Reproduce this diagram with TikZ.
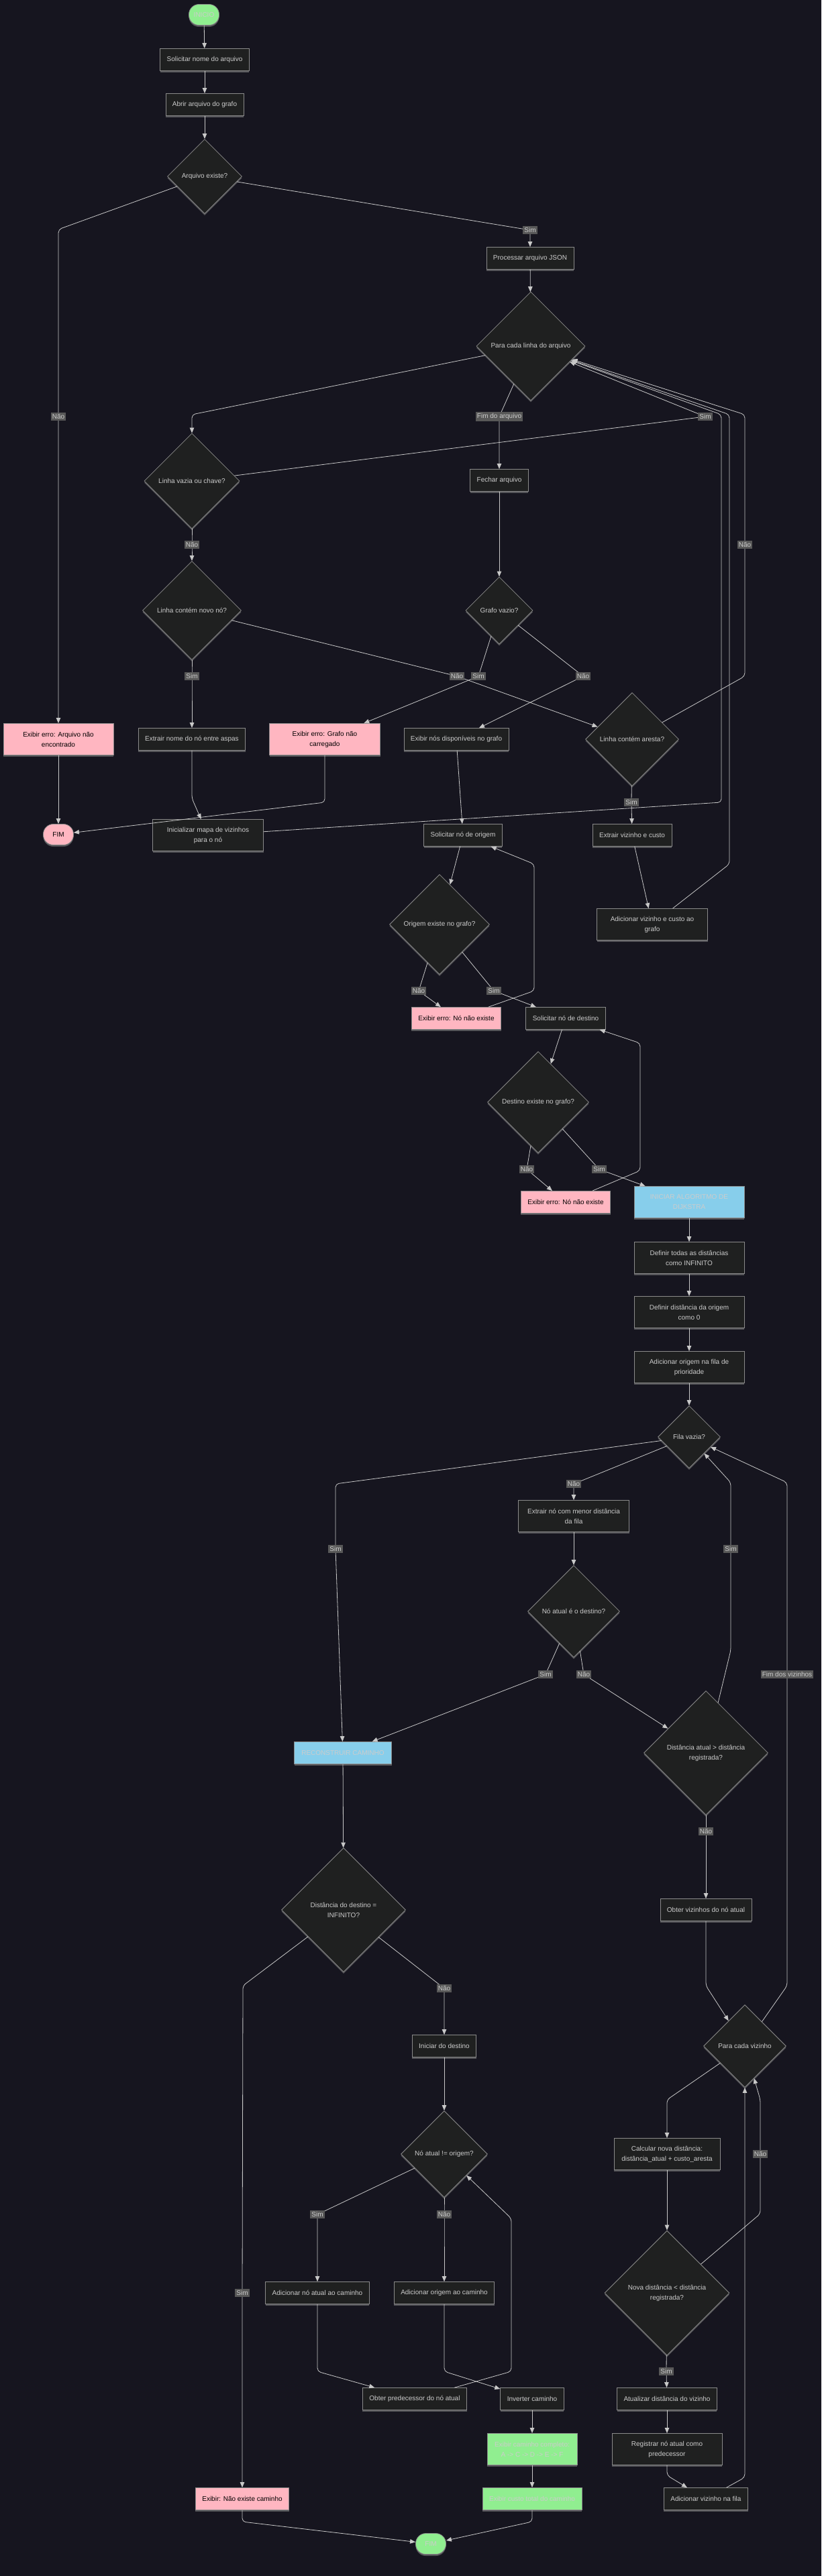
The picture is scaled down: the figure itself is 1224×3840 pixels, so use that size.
\documentclass[tikz,border=0pt]{standalone}
\usepackage{fontspec}
\setmainfont{Liberation Sans}
\usetikzlibrary{shapes.geometric,arrows.meta,shadows}

\definecolor{fundo}{HTML}{16151F}
\definecolor{caixa}{HTML}{1F2020}
\definecolor{borda}{HTML}{8A8A8A}
\definecolor{linha}{HTML}{C8C8C8}
\definecolor{textoclaro}{HTML}{CCCCCC}
\definecolor{rotulofundo}{HTML}{585858}
\definecolor{rosa}{HTML}{FFB6C1}
\definecolor{azul}{HTML}{87CEEB}
\definecolor{verde}{HTML}{90EE90}

\tikzset{
  base/.style={draw=borda, line width=0.8pt, font=\fontsize{10}{15}\selectfont, align=center,
    inner xsep=10pt, inner ysep=4pt,
    drop shadow={shadow xshift=0pt, shadow yshift=-2.5pt, fill=gray, opacity=.6}},
  proc/.style={base, rectangle, fill=caixa, text=textoclaro, minimum height=33pt},
  duas/.style={minimum height=47pt, minimum width=#1},
  erro/.style={base, rectangle, fill=rosa, text=black, minimum height=33pt},
  destaque/.style={base, rectangle, fill=azul, text=textoclaro, minimum height=33pt},
  sucesso/.style={base, rectangle, fill=verde, text=textoclaro, minimum height=33pt},
  term/.style={base, rectangle, rounded corners=15pt, minimum height=31pt, minimum width=45pt, inner xsep=6pt},
  decisao/.style={base, diamond, aspect=1, fill=caixa, text=textoclaro, inner sep=2pt,
    minimum width=#1, minimum height=#1},
  rotulo/.style={fill=rotulofundo, text=textoclaro, font=\fontsize{10}{12}\selectfont, inner sep=2pt, sharp corners},
  seta/.style={draw=linha, line width=0.8pt, rounded corners=5pt, -{Triangle[length=8pt,width=6.5pt]}}
}

\begin{document}
\begin{tikzpicture}[x=1pt,y=-1pt]
  \useasboundingbox (0,0) rectangle (1224,3840);
  \fill[fundo] (0,0) rectangle (1224,3840);
  % leitura do arquivo
  \node[term, fill=verde, text=textoclaro] (inicio) at (304,22) {INICIO};
  \node[proc] (solnome) at (305,89) {Solicitar nome do arquivo};
  \node[proc] (abrir) at (305,156) {Abrir arquivo do grafo};
  \node[decisao=111pt] (existe) at (305,263) {Arquivo existe?};
  \node[proc] (processar) at (790,385) {Processar arquivo JSON};
  \node[decisao=162pt] (paralinha) at (791,516) {Para cada linha do arquivo};
  \node[decisao=142pt] (vazia) at (286,717) {Linha vazia ou chave?};
  \node[proc] (fechar) at (744,716) {Fechar arquivo};
  \node[decisao=147pt] (novono) at (286,910) {Linha contém novo nó?};
  \node[decisao=100pt] (grafovazio) at (744,910) {Grafo vazio?};
  \node[erro, duas=164pt] (erroarq) at (87,1102) {Exibir erro: Arquivo não\\encontrado};
  \node[proc] (extrairnome) at (286,1102) {Extrair nome do nó entre aspas};
  \node[erro, duas=165pt] (errografo) at (484,1102) {Exibir erro: Grafo não\\carregado};
  \node[proc] (exibirnos) at (680,1102) {Exibir nós disponíveis no grafo};
  \node[decisao=139pt] (aresta) at (942,1102) {Linha contém aresta?};
  \node[term, fill=rosa, text=black] (fim1) at (87,1244) {FIM};
  \node[proc, duas=165pt] (inicializar) at (310,1245) {Inicializar mapa de vizinhos\\para o nó};
  \node[proc] (solorigem) at (690,1245) {Solicitar nó de origem};
  \node[proc] (extrairviz) at (942,1245) {Extrair vizinho e custo};
  \node[proc, duas=165pt] (addviz) at (972,1378) {Adicionar vizinho e custo ao\\grafo};
  % origem e destino
  \node[decisao=149pt] (origemexiste) at (655,1378) {Origem existe no grafo?};
  \node[erro] (erronoo) at (680,1518) {Exibir erro: Nó não existe};
  \node[proc] (soldestino) at (843,1518) {Solicitar nó de destino};
  \node[decisao=151pt] (destexiste) at (802,1643) {Destino existe no grafo?};
  \node[erro] (erronod) at (843,1792) {Exibir erro: Nó não existe};
  % dijkstra
  \node[destaque, duas=164pt] (dijkstra) at (1027,1792) {INICIAR ALGORITMO DE\\DIJKSTRA};
  \node[proc, duas=164pt] (definf) at (1027,1875) {Definir todas as distâncias\\como INFINITO};
  \node[proc, duas=164pt] (defzero) at (1027,1956) {Definir distância da origem\\como 0};
  \node[proc, duas=164pt] (addfila) at (1027,2038) {Adicionar origem na fila de\\prioridade};
  \node[decisao=93pt] (filavazia) at (1027,2142) {Fila vazia?};
  \node[proc, duas=165pt] (extrairmenor) at (855,2260) {Extrair nó com menor distância\\da fila};
  \node[decisao=137pt] (ehdestino) at (855,2402) {Nó atual é o destino?};
  \node[destaque, minimum width=145pt] (reconstruir) at (511,2613) {RECONSTRUIR CAMINHO};
  \node[decisao=185pt] (distmaior) at (1052,2613) {Distância atual > distância\\registrada?};
  \node[proc] (obterviz) at (1052,2847) {Obter vizinhos do nó atual};
  \node[decisao=185pt] (distinf) at (512,2847) {Distância do destino =\\INFINITO?};
  \node[decisao=123pt] (paraviz) at (1110,3050) {Para cada vizinho};
  \node[proc] (iniciardest) at (662,3050) {Iniciar do destino};
  \node[decisao=129pt] (atualorigem) at (662,3211) {Nó atual != origem?};
  \node[proc, duas=158pt] (calcular) at (994,3211) {Calcular nova distância:\\distância\_atual + custo\_aresta};
  \node[decisao=186pt] (novamenor) at (994,3418) {Nova distância < distância\\registrada?};
  \node[proc] (addatual) at (473,3418) {Adicionar nó atual ao caminho};
  \node[proc] (addorigem) at (662,3418) {Adicionar origem ao caminho};
  \node[proc] (predecessor) at (618,3576) {Obter predecessor do nó atual};
  \node[proc] (inverter) at (793,3576) {Inverter caminho};
  \node[proc] (atualizar) at (994,3576) {Atualizar distância do vizinho};
  \node[sucesso, duas=134pt] (exibircaminho) at (793,3651) {Exibir caminho completo:\\A -> C -> D -> E -> F};
  \node[proc, duas=164pt] (registrar) at (994,3651) {Registrar nó atual como\\predecessor};
  \node[erro] (semcaminho) at (361,3725) {Exibir: Não existe caminho};
  \node[sucesso] (custototal) at (793,3725) {Exibir custo total do caminho};
  \node[proc] (addfilaviz) at (1052,3725) {Adicionar vizinho na fila};
  \node[term, fill=verde, text=textoclaro] (fim2) at (642,3792) {FIM};

  \foreach \from/\to in {inicio/solnome,solnome/abrir,abrir/existe,processar/paralinha,fechar/grafovazio,erroarq/fim1,exibirnos/solorigem,extrairviz/addviz,solorigem/origemexiste,soldestino/destexiste,dijkstra/definf,definf/defzero,defzero/addfila,addfila/filavazia,extrairmenor/ehdestino,reconstruir/distinf,iniciardest/atualorigem,calcular/novamenor,atualizar/registrar,inverter/exibircaminho,exibircaminho/custototal}
    \draw[seta] (\from) -- (\to);

  \draw[seta] (existe) -- (790,343) node[rotulo] {Sim} -- (processar);
  \draw[seta] (existe) -- (87,342) -- (87,621) node[rotulo] {Não} -- (erroarq);
  \draw[seta] (paralinha) -- (286,618) -- (vazia);
  \draw[seta] (paralinha) -- (744,621) node[rotulo] {Fim do arquivo} -- (fechar);
  \draw[seta] (vazia) -- (1051,621) node[rotulo] {Sim} -- (paralinha);
  \draw[seta] (vazia) -- (286,812) node[rotulo] {Não} -- (novono);
  \draw[seta] (novono) -- (286,1008) node[rotulo] {Sim} -- (extrairnome);
  \draw[seta] (novono) -- (681,1008) node[rotulo] {Não} -- (aresta);
  \draw[seta] (grafovazio) -- (713,1008) node[rotulo] {Sim} -- (errografo);
  \draw[seta] (grafovazio) -- (869,1008) node[rotulo] {Não} -- (exibirnos);
  \draw[seta] (aresta) -- (941,1196) node[rotulo] {Sim} -- (extrairviz);
  \draw[seta] (aresta) -- (1110,1008) -- (1110,812) node[rotulo] {Não} -- (1110,618) -- (paralinha);
  \draw[seta] (extrairnome) -- (286,1190) -- (inicializar);
  \draw[seta] (errografo) -- (484,1196) -- (fim1);
  \draw[seta] (inicializar) -- (1075,1196) -- (1075,618) -- (paralinha);
  \draw[seta] (addviz) -- (1087,1288) -- (1087,618) -- (paralinha);
  \draw[seta] (origemexiste) -- (624,1477) node[rotulo] {Não} -- (erronoo);
  \draw[seta] (origemexiste) -- (736,1477) node[rotulo] {Sim} -- (soldestino);
  \draw[seta] (erronoo) -- (796,1477) -- (796,1288) -- (solorigem);
  \draw[seta] (destexiste) -- (785,1743) node[rotulo] {Não} -- (erronod);
  \draw[seta] (destexiste) -- (893,1743) node[rotulo] {Sim} -- (dijkstra);
  \draw[seta] (erronod) -- (954,1745) -- (954,1555) -- (soldestino);
  \draw[seta] (filavazia) -- (500,2212) -- (500,2309) node[rotulo] {Sim} -- (reconstruir);
  \draw[seta] (filavazia) -- (855,2212) node[rotulo] {Não} -- (extrairmenor);
  \draw[seta] (ehdestino) -- (813,2496) node[rotulo] {Sim} -- (reconstruir);
  \draw[seta] (ehdestino) -- (870,2496) node[rotulo] {Não} -- (distmaior);
  \draw[seta] (distmaior) -- (1089,2460) -- (1089,2309) node[rotulo] {Sim} -- (1089,2210) -- (filavazia);
  \draw[seta] (distmaior) -- (1052,2730) node[rotulo] {Não} -- (obterviz);
  \draw[seta] (obterviz) -- (1052,2960) -- (paraviz);
  \draw[seta] (paraviz) -- (1173,2960) -- (1173,2496) node[rotulo] {Fim dos vizinhos} -- (1173,2210) -- (filavazia);
  \draw[seta] (paraviz) -- (994,3130) -- (calcular);
  \draw[seta] (novamenor) -- (993,3535) node[rotulo] {Sim} -- (atualizar);
  \draw[seta] (novamenor) -- (1133,3300) -- (1133,3211) node[rotulo] {Não} -- (1133,3130) -- (paraviz);
  \draw[seta] (registrar) -- (994,3690) -- (addfilaviz);
  \draw[seta] (addfilaviz) -- (1110,3693) -- (paraviz);
  \draw[seta] (distinf) -- (662,2964) node[rotulo] {Não} -- (iniciardest);
  \draw[seta] (distinf) -- (362,2960) -- (361,3418) node[rotulo] {Sim} -- (semcaminho);
  \draw[seta] (atualorigem) -- (473,3301) node[rotulo] {Sim} -- (addatual);
  \draw[seta] (atualorigem) -- (662,3301) node[rotulo] {Não} -- (addorigem);
  \draw[seta] (addatual) -- (473,3535) -- (predecessor);
  \draw[seta] (predecessor) -- (762,3535) -- (762,3307) -- (atualorigem);
  \draw[seta] (addorigem) -- (662,3535) -- (inverter);
  \draw[seta] (semcaminho) -- (361,3759) -- (fim2);
  \draw[seta] (custototal) -- (793,3759) -- (fim2);
\end{tikzpicture}
\end{document}
